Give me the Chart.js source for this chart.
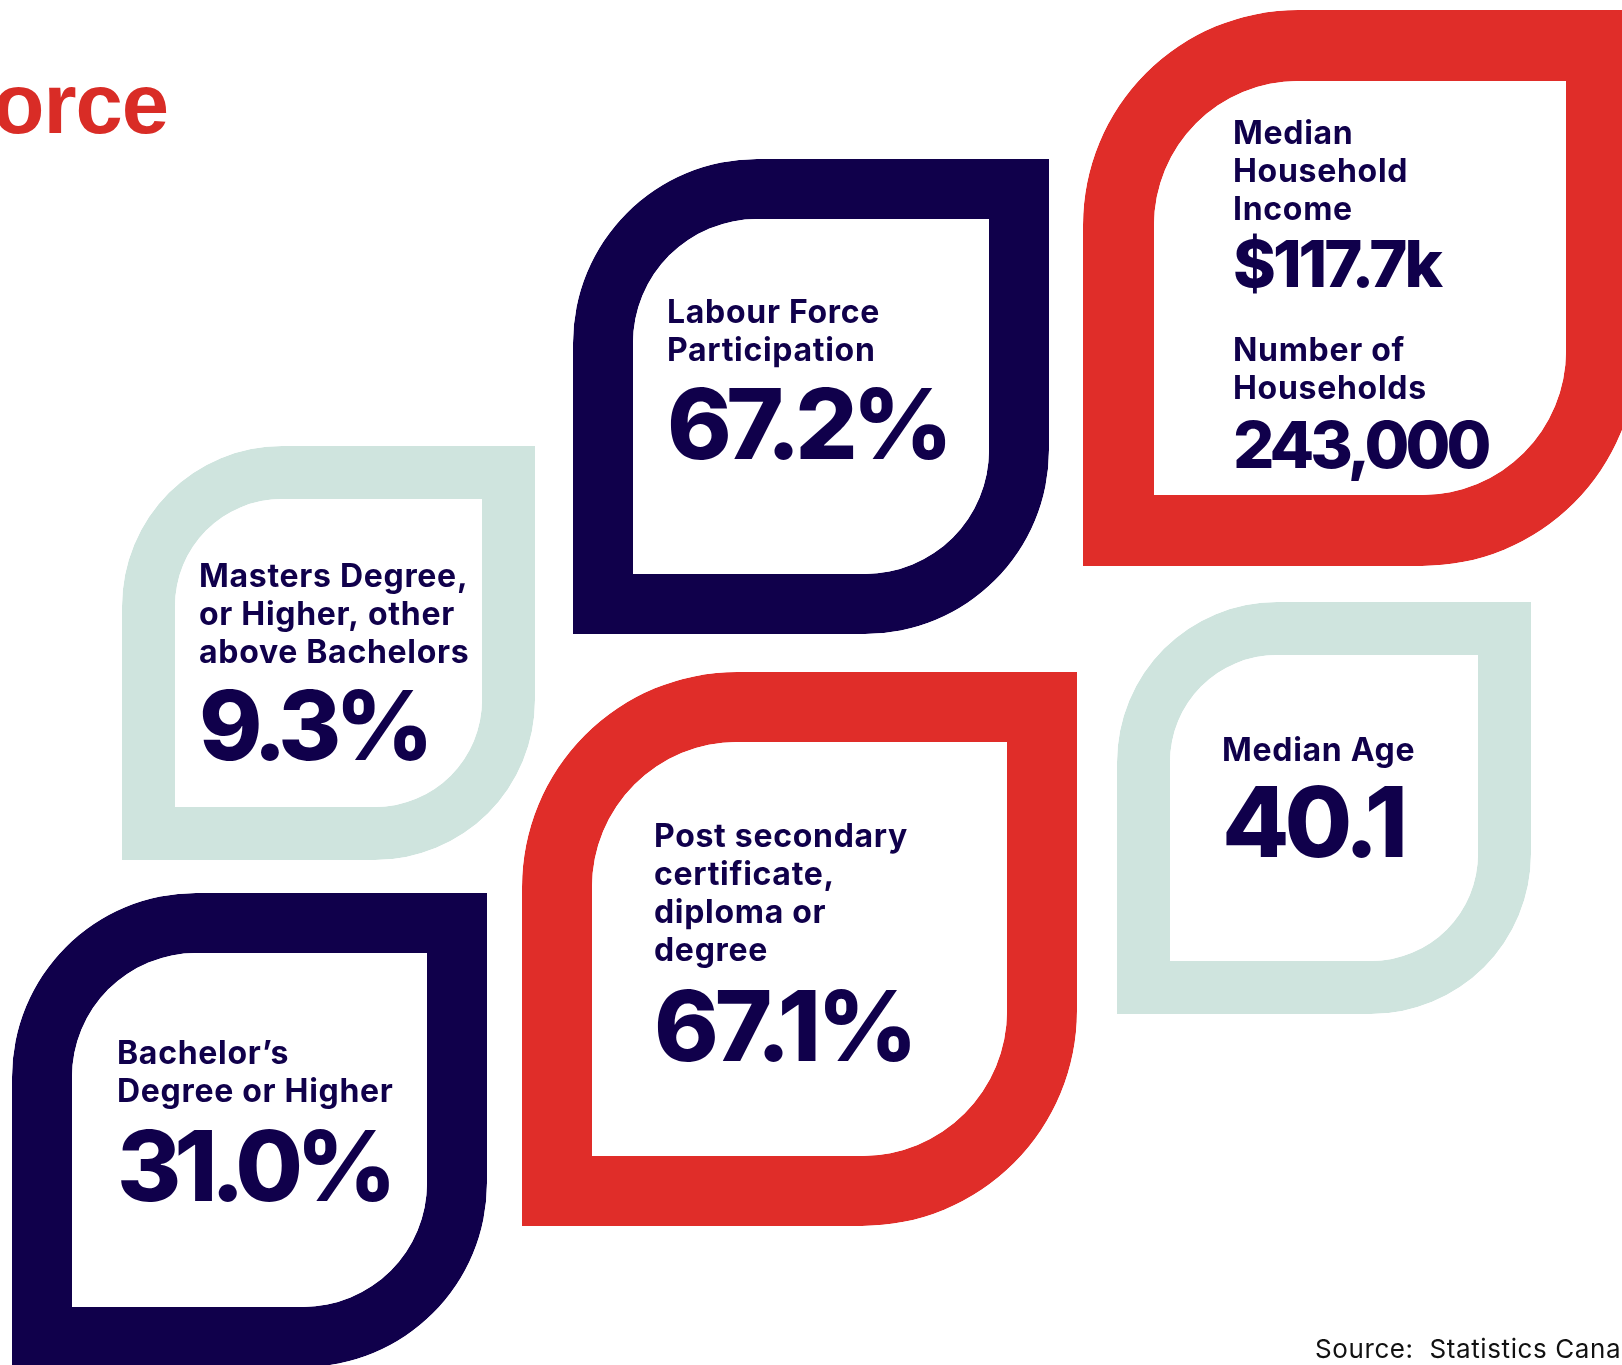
<!DOCTYPE html>
<html>
<head>
<meta charset="utf-8">
<script src="https://cdn.jsdelivr.net/npm/chart.js@4.4.0/dist/chart.umd.min.js"></script>
<style>
  html, body { margin: 0; padding: 0; background: #fff; overflow: hidden; }
  canvas { display: block; }
</style>
</head>
<body>
<canvas id="leafChart" width="1622" height="1365"></canvas>
<script>
// stat names, split the way they wrap on the cards, and their values
const statLines = [
  ["Median", "Household", "Income"],
  ["Number of", "Households"],
  ["Labour Force", "Participation"],
  ["Masters Degree,", "or Higher, other", "above Bachelors"],
  ["Bachelor’s", "Degree or Higher"],
  ["Post secondary", "certificate,", "diploma or", "degree"],
  ["Median Age"]
];
const statValues = ["$117.7k", "243,000", "67.2%", "9.3%", "31.0%", "67.1%", "40.1"];
const pageTitle = "Labour Force";
const sourceNote = "Source:  Statistics Canada";

const NAVY = "#10004b";
const RED = "#e02d29";
const MINT = "#cfe4de";

// card layout in page pixels: outer box, ring width, corner radius, colour
const cards = [
  { left: 1083, top: 10, right: 1637, bottom: 566, ring: 71, radius: 215, color: RED },
  { left: 573, top: 159, right: 1049, bottom: 634, ring: 60, radius: 184, color: NAVY },
  { left: 122, top: 446, right: 535, bottom: 860, ring: 53, radius: 160, color: MINT },
  { left: 12, top: 893, right: 487, bottom: 1367, ring: 60, radius: 184, color: NAVY },
  { left: 522, top: 672, right: 1077, bottom: 1226, ring: 70, radius: 215, color: RED },
  { left: 1117, top: 602, right: 1531, bottom: 1014, ring: 53, radius: 160, color: MINT }
];

// where each stat's text sits, offset from its card's top-left corner
const statText = [
  { card: 0, dx: 150, label: 134, value: 277, size: 65, track: -3 },
  { card: 0, dx: 150, label: 351, value: 458, size: 65, track: -4 },
  { card: 1, dx: 94, label: 164, value: 300, size: 98, track: -5.5 },
  { card: 2, dx: 77, label: 141, value: 314, size: 96, track: -6.5 },
  { card: 3, dx: 105, label: 171, value: 308, size: 98, track: -7 },
  { card: 4, dx: 132, label: 175, value: 389, size: 98, track: -4 },
  { card: 5, dx: 105, label: 159, value: 255, size: 98, track: -5 }
];

// each card is one floating bar: its ring is the bar border
const datasets = cards.map((c) => ({
  data: [{ x: (c.left + c.right) / 2, y: [c.bottom, c.top] }],
  barThickness: c.right - c.left,
  grouped: false,
  backgroundColor: "#ffffff",
  borderColor: c.color,
  borderWidth: c.ring,
  borderSkipped: false,
  borderRadius: { topLeft: c.radius, topRight: 0, bottomLeft: 0, bottomRight: c.radius },
  inflateAmount: 0
}));

const cardText = {
  id: "cardText",
  afterDatasetsDraw(chart) {
    const ctx = chart.ctx;
    ctx.save();
    ctx.textAlign = "left";
    ctx.textBaseline = "alphabetic";
    ctx.fillStyle = NAVY;
    statText.forEach((t, i) => {
      const bar = chart.getDatasetMeta(t.card).data[0];
      const left = bar.x - bar.width / 2;
      const top = Math.min(bar.y, bar.base);
      const x = left + t.dx;
      ctx.font = "700 32px Inter";
      ctx.letterSpacing = "0.7px";
      statLines[i].forEach((line, k) => {
        ctx.fillText(line, x, top + t.label + k * 38);
      });
      ctx.font = "800 " + t.size + "px Inter";
      ctx.letterSpacing = t.track + "px";
      ctx.fillText(statValues[i], x, top + t.value);
    });

    // page title, mostly off the left edge
    ctx.fillStyle = "#d92c26";
    ctx.textAlign = "right";
    ctx.font = "700 85px 'Liberation Sans'";
    ctx.letterSpacing = "-1px";
    ctx.fillText(pageTitle, 168, 133);

    // source line, runs off the right edge
    ctx.fillStyle = "#111111";
    ctx.textAlign = "left";
    ctx.font = "400 26px Inter";
    ctx.letterSpacing = "0.6px";
    ctx.fillText(sourceNote, 1315, 1358);
    ctx.restore();
  }
};

new Chart(document.getElementById("leafChart"), {
  type: "bar",
  data: { datasets: datasets },
  options: {
    responsive: false,
    animation: false,
    devicePixelRatio: 1,
    events: [],
    layout: { padding: 0 },
    plugins: {
      legend: { display: false },
      tooltip: { enabled: false }
    },
    scales: {
      x: { type: "linear", min: 0, max: 1622, offset: false, display: false },
      y: { type: "linear", min: 0, max: 1365, reverse: true, display: false }
    }
  },
  plugins: [cardText]
});
</script>
</body>
</html>
